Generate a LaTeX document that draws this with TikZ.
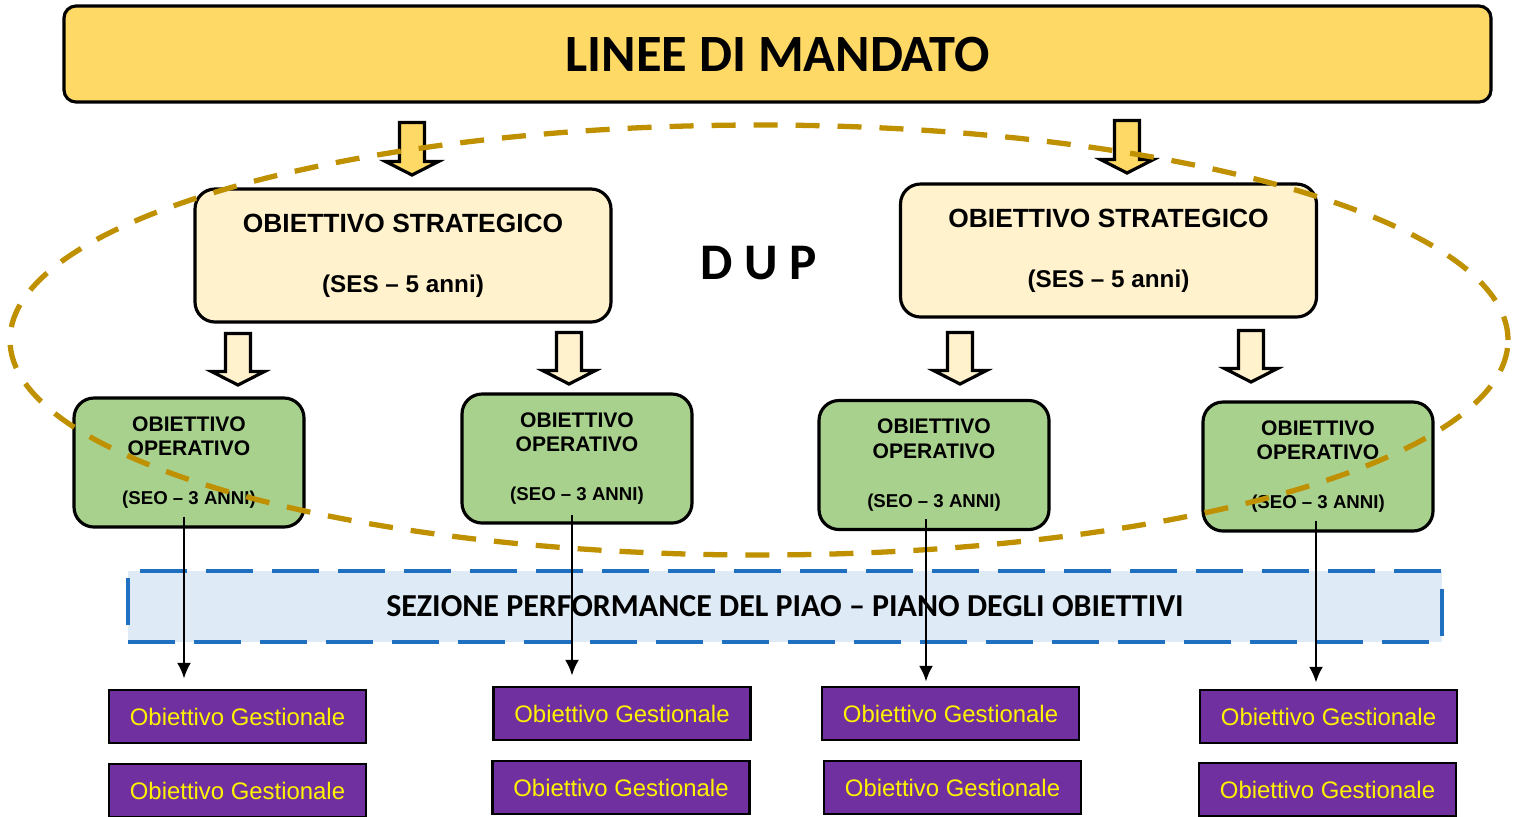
\documentclass[tikz,border=0pt]{standalone}
\usepackage{fontspec}
\setmainfont{Liberation Sans}
\newfontfamily\calibri{Carlito}
\usetikzlibrary{calc,arrows.meta}

\definecolor{giallo}{HTML}{FFD966}
\definecolor{crema}{HTML}{FFF2CC}
\definecolor{verde}{HTML}{A9D18E}
\definecolor{viola}{HTML}{7030A0}
\definecolor{oro}{HTML}{BF9000}
\definecolor{azzurro}{HTML}{DEEBF7}
\definecolor{blu}{HTML}{1F70C1}

% freccia a blocco verso il basso: x, y cima, y punta, colore
\newcommand{\bloccofreccia}[4]{%
  \filldraw[draw=black, line width=0.9pt, fill=#4]
    (#1-0.125,#2) -- (#1+0.125,#2) -- (#1+0.125,#3+0.135) -- (#1+0.265,#3+0.135)
    -- (#1,#3) -- (#1-0.265,#3+0.135) -- (#1-0.125,#3+0.135) -- cycle;}

\tikzset{
  strat/.style={draw, line width=0.9pt, fill=crema, rounded corners=0.2cm,
    minimum width=4.16cm, minimum height=1.33cm, align=center,
    font=\fontsize{7.5}{9}\bfseries\selectfont},
  oper/.style={draw, line width=0.9pt, fill=verde, rounded corners=0.2cm,
    minimum width=2.30cm, minimum height=1.29cm, align=center,
    font=\fontsize{6}{7.1}\bfseries\selectfont},
  gest/.style={draw, line width=0.8pt, fill=viola, text=yellow,
    minimum width=2.57cm, minimum height=0.53cm, inner sep=0pt,
    font=\fontsize{6.8}{8}\selectfont},
  arr/.style={-{Latex[length=4.5pt,width=4pt]}, line width=0.7pt}
}

\begin{document}
\begin{tikzpicture}
\clip (0,0) rectangle (15.16,-8.16);
\useasboundingbox (0,0) rectangle (15.16,-8.16);

% linee di mandato
\node[draw, line width=0.9pt, fill=giallo, rounded corners=0.12cm,
  minimum width=14.27cm, minimum height=0.96cm,
  font=\calibri\fontsize{14.9}{18}\bfseries\selectfont] (mandato) at (7.775,-0.54) {LINEE DI MANDATO};

% frecce dalle linee di mandato
\bloccofreccia{4.12}{-1.225}{-1.75}{giallo}
\bloccofreccia{11.27}{-1.205}{-1.73}{giallo}

% obiettivi strategici
\node[strat] (s1) at (4.03,-2.555) {OBIETTIVO STRATEGICO\\[8pt]{\fontsize{6.9}{8}\selectfont(SES – 5 anni)}};
\node[strat] (s2) at (11.085,-2.505) {OBIETTIVO STRATEGICO\\[8pt]{\fontsize{6.9}{8}\selectfont(SES – 5 anni)}};

\node[font=\calibri\fontsize{14.6}{18}\bfseries\selectfont] (dup) at (7.59,-2.63) {D U P};

% frecce verso gli obiettivi operativi
\bloccofreccia{2.38}{-3.335}{-3.85}{crema}
\bloccofreccia{5.69}{-3.325}{-3.84}{crema}
\bloccofreccia{9.60}{-3.325}{-3.84}{crema}
\bloccofreccia{12.51}{-3.305}{-3.82}{crema}

% obiettivi operativi
\node[oper] (o1) at (1.89,-4.625) {OBIETTIVO\\OPERATIVO\\[6.8pt]{\fontsize{5.3}{6}\selectfont(SEO – 3 ANNI)}};
\node[oper] (o2) at (5.77,-4.585) {OBIETTIVO\\OPERATIVO\\[6.8pt]{\fontsize{5.3}{6}\selectfont(SEO – 3 ANNI)}};
\node[oper] (o3) at (9.34,-4.65) {OBIETTIVO\\OPERATIVO\\[6.8pt]{\fontsize{5.3}{6}\selectfont(SEO – 3 ANNI)}};
\node[oper] (o4) at (13.18,-4.665) {OBIETTIVO\\OPERATIVO\\[6.8pt]{\fontsize{5.3}{6}\selectfont(SEO – 3 ANNI)}};

% sezione performance
\node[draw=blu, fill=azzurro, line width=1.1pt, dash pattern=on 0.47cm off 0.19cm,
  minimum width=13.14cm, minimum height=0.71cm,
  font=\calibri\fontsize{9.1}{11}\bfseries\selectfont] (sez) at (7.85,-6.065)
  {SEZIONE PERFORMANCE DEL PIAO – PIANO DEGLI OBIETTIVI};

% obiettivi gestionali
\node[gest] (g1a) at (2.375,-7.165) {Obiettivo Gestionale};
\node[gest] (g1b) at (2.375,-7.905) {Obiettivo Gestionale};
\node[gest] (g2a) at (6.22,-7.135) {Obiettivo Gestionale};
\node[gest] (g2b) at (6.21,-7.875) {Obiettivo Gestionale};
\node[gest] (g3a) at (9.505,-7.135) {Obiettivo Gestionale};
\node[gest] (g3b) at (9.525,-7.875) {Obiettivo Gestionale};
\node[gest] (g4a) at (13.285,-7.165) {Obiettivo Gestionale};
\node[gest] (g4b) at (13.275,-7.895) {Obiettivo Gestionale};

% ellisse DUP
\draw[oro, line width=1.5pt, dash pattern=on 0.24cm off 0.18cm] (7.59,-3.40) ellipse (7.49cm and 2.15cm);

% collegamenti
\draw[arr] ($(o1.south)+(-0.05,0.12)$) -- ($(o1.south |- g1a.north)+(-0.05,0.10)$);
\draw[arr] ($(o2.south)+(-0.05,0.10)$) -- ($(o2.south |- g2a.north)+(-0.05,0.10)$);
\draw[arr] ($(o3.south)+(-0.08,0.12)$) -- ($(o3.south |- g3a.north)+(-0.08,0.04)$);
\draw[arr] ($(o4.south)+(-0.02,0.12)$) -- ($(o4.south |- g4a.north)+(-0.02,0.06)$);
\end{tikzpicture}
\end{document}
